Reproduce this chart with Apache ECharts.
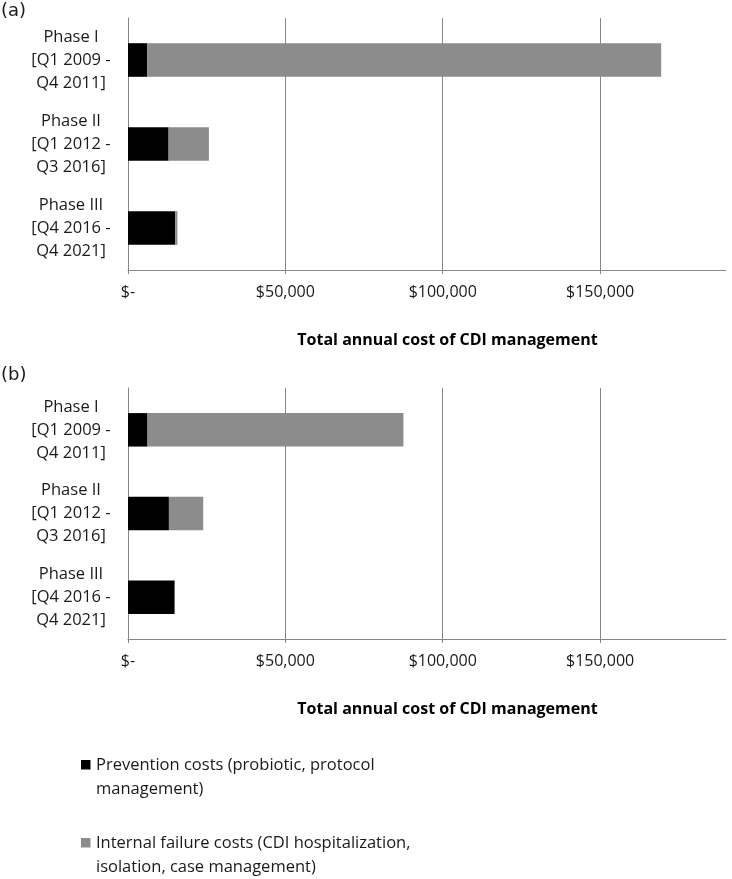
<!DOCTYPE html>
<html>
<head>
<meta charset="utf-8">
<script src="https://cdn.jsdelivr.net/npm/echarts@6/dist/echarts.min.js"></script>
<style>
html,body{margin:0;padding:0;background:#fff;}
#chart{width:732px;height:879px;}
</style>
</head>
<body>
<div id="chart"></div>
<script>
var categories = ['Phase I\n[Q1 2009 -\nQ4 2011]', 'Phase II\n[Q1 2012 -\nQ3 2016]', 'Phase III\n[Q4 2016 -\nQ4 2021]'];
var seriesNames = ['Prevention costs (probiotic, protocol management)', 'Internal failure costs (CDI hospitalization, isolation, case management)'];
var legendLines = ['Prevention costs (probiotic, protocol\nmanagement)', 'Internal failure costs (CDI hospitalization,\nisolation, case management)'];
var preventionA = [6100, 12900, 15000];
var internalA = [163300, 12800, 700];
var preventionB = [6200, 13000, 14800];
var internalB = [81300, 10900, 0];
var xTicks = [0, 50000, 100000, 150000];
var xMax = 190000;
var axisTitle = 'Total annual cost of CDI management';
var panelLabels = ['(a)', '(b)'];

var FONT = '"Open Sans", "Noto Sans", sans-serif';
var GRID = '#878787';
var BLACK = '#000000';
var GREY = '#8c8c8c';

function xAxisFor(gi) {
  return {
    type: 'value', gridIndex: gi, min: 0, max: xMax, interval: xTicks[1] - xTicks[0],
    axisLine: {show: true, lineStyle: {color: GRID, width: 1}},
    axisTick: {show: true, length: 4, lineStyle: {color: GRID}},
    splitLine: {show: true, lineStyle: {color: [GRID, GRID, GRID, GRID, 'rgba(0,0,0,0)'], width: 1}},
    axisLabel: {
      showMaxLabel: false, margin: 14, color: '#1a1a1a', fontFamily: FONT, fontSize: 16,
      formatter: function (v) {
        if (xTicks.indexOf(v) < 0) return '';
        return v === 0 ? '$-' : '$' + v.toLocaleString('en-US');
      }
    },
    name: axisTitle, nameLocation: 'middle', nameGap: 62,
    nameTextStyle: {fontFamily: FONT, fontSize: 16, fontWeight: 'bold', color: '#000', padding: [0, 0, 0, 41]}
  };
}
function yAxisFor(gi) {
  return {
    type: 'category', gridIndex: gi, data: categories, inverse: true,
    axisLine: {show: true, lineStyle: {color: GRID}},
    axisTick: {show: false},
    axisLabel: {align: 'center', margin: 57, color: '#1a1a1a', fontFamily: FONT, fontSize: 16.5, lineHeight: 23}
  };
}

var chart = echarts.init(document.getElementById('chart'), null, {renderer: 'canvas'});
var legendGraphics = [];
[BLACK, GREY].forEach(function (c, i) {
  var y = i === 0 ? 765 : 843;
  legendGraphics.push({type: 'rect', shape: {x: 81, y: y - 5, width: 9.5, height: 9.5}, style: {fill: c}});
  legendGraphics.push({type: 'text', x: 96, y: y - 12, style: {text: legendLines[i], font: '16.5px ' + FONT, fill: '#1a1a1a', lineHeight: 24, verticalAlign: 'top'}});
});

chart.setOption({
  animation: false,
  backgroundColor: '#fff',
  grid: [
    {left: 128, top: 18, width: 598, height: 252},
    {left: 128, top: 388, width: 598, height: 251}
  ],
  xAxis: [xAxisFor(0), xAxisFor(1)],
  yAxis: [yAxisFor(0), yAxisFor(1)],
  series: [
    {name: seriesNames[0], type: 'bar', stack: 'a', xAxisIndex: 0, yAxisIndex: 0, data: preventionA, barWidth: '40%', itemStyle: {color: BLACK}},
    {name: seriesNames[1], type: 'bar', stack: 'a', xAxisIndex: 0, yAxisIndex: 0, data: internalA, barWidth: '40%', itemStyle: {color: GREY}},
    {name: seriesNames[0], type: 'bar', stack: 'b', xAxisIndex: 1, yAxisIndex: 1, data: preventionB, barWidth: '40%', itemStyle: {color: BLACK}},
    {name: seriesNames[1], type: 'bar', stack: 'b', xAxisIndex: 1, yAxisIndex: 1, data: internalB, barWidth: '40%', itemStyle: {color: GREY}}
  ],
  graphic: [
    {type: 'text', left: 1, top: 2, style: {text: panelLabels[0], font: '18px "DejaVu Sans", sans-serif', fill: '#1a1a1a'}},
    {type: 'text', left: 1, top: 366, style: {text: panelLabels[1], font: '18px "DejaVu Sans", sans-serif', fill: '#1a1a1a'}}
  ].concat(legendGraphics)
});
</script>
</body>
</html>
